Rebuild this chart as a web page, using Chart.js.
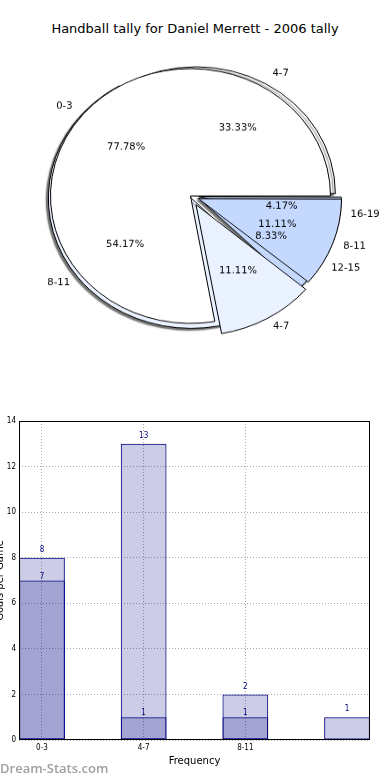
<!DOCTYPE html>
<html>
<head>
<meta charset="utf-8">
<script src="https://cdn.jsdelivr.net/npm/chart.js@4.4.1/dist/chart.umd.min.js"></script>
<style>
  body { margin: 0; width: 390px; height: 780px; overflow: hidden; background: #fff; position: relative; font-family: "DejaVu Sans", sans-serif; }
  #title { position: absolute; top: 21px; left: 0; width: 390px; text-align: center; font-size: 13px; color: #000; }
  #pieWrap { position: absolute; left: 0; top: 0; width: 390px; height: 392px; transform: scaleY(0.91); transform-origin: 50% 196px; }
  #pieWrap canvas { position: absolute; left: 0; top: 0; }
  #barBox { position: absolute; left: -6px; top: 400px; width: 396px; height: 380px; }
  #mark { position: absolute; left: 0; top: 762px; font-family: "Open Sans", sans-serif; font-weight: 600; font-size: 13px; line-height: 13px; color: #a0a0a0; }
</style>
</head>
<body>
<div id="title">Handball tally for Daniel Merrett - 2006 tally</div>
<div id="pieWrap">
  <canvas id="pieBack" width="390" height="392"></canvas>
  <canvas id="pieFront" width="390" height="392"></canvas>
</div>
<div id="barBox"><canvas id="bars"></canvas></div>
<div id="mark">Dream-Stats.com</div>
<script>
// pie data (matplotlib order: counter-clockwise from 3 o'clock)
var pieLabelsA = ['0-3', '4-7', '8-11'];
var pieTallyA = [7, 1, 1];
var pieLabelsB = ['4-7', '8-11', '12-15', '16-19'];
var pieTallyB = [8, 13, 2, 1];

// bar data
var barCategories = ['0-3', '4-7', '8-11', '12-15'];
var barTickLabels = ['0-3', '4-7', '8-11'];
var barTotal = [8, 13, 2, 1];
var bar2006 = [7, 1, 1, 0];
var yTicks = [0, 2, 4, 6, 8, 10, 12, 14];

var FONT = '"DejaVu Sans", sans-serif';
var SQUASH = 0.91;

// chart.js goes clockwise, so feed the slices backwards
function rev(a) { return a.slice().reverse(); }

function drawPieText(ctx, chart) {
  var meta = chart.getDatasetMeta(0);
  var data = chart.data.datasets[0].data;
  var total = data.reduce(function(a, b) { return a + b; }, 0);
  ctx.save();
  ctx.font = '10px ' + FONT;
  ctx.fillStyle = '#000';
  ctx.textBaseline = 'middle';
  meta.data.forEach(function(arc, i) {
    var mid = (arc.startAngle + arc.endAngle) / 2;
    var c = Math.cos(mid), s = Math.sin(mid);
    var t = (arc.options.offset || 0) / 4;
    var R = arc.outerRadius;
    var put = function(txt, dist, align) {
      ctx.save();
      ctx.translate(arc.x + c * (dist + t), arc.y + s * (dist + t));
      ctx.scale(1, 1 / SQUASH);
      ctx.textAlign = align;
      ctx.fillText(txt, 0, 0);
      ctx.restore();
    };
    put(chart.data.labels[i], 1.1 * R, c > 0 ? 'left' : 'right');
    put((data[i] / total * 100).toFixed(2) + '%', 0.6 * R, 'center');
  });
  ctx.restore();
}

// the front pie writes the labels of both pies so nothing hides them
var pieText = {
  id: 'pieText',
  afterDatasetsDraw: function(chart) {
    var back = Chart.getChart('pieBack');
    if (back) drawPieText(chart.ctx, back);
    drawPieText(chart.ctx, chart);
  }
};

var pieShadow = {
  id: 'pieShadow',
  beforeDatasetsDraw: function(chart) {
    var ctx = chart.ctx;
    ctx.save();
    ctx.shadowColor = 'rgba(0,0,0,0.55)';
    ctx.shadowOffsetX = -2;
    ctx.shadowOffsetY = 2;
    ctx.shadowBlur = 1.5;
  },
  afterDatasetsDraw: function(chart) { chart.ctx.restore(); }
};

function pieConfig(labels, values, colors, offsets, radius, padding, plugins) {
  return {
    type: 'pie',
    data: {
      labels: rev(labels),
      datasets: [{
        data: rev(values),
        backgroundColor: rev(colors),
        borderColor: '#000',
        borderWidth: 1,
        offset: rev(offsets),
        hoverOffset: 0
      }]
    },
    options: {
      responsive: false,
      animation: false,
      rotation: 90,
      radius: radius,
      layout: { padding: padding },
      plugins: { legend: { display: false }, tooltip: { enabled: false } },
      events: []
    },
    plugins: plugins
  };
}

new Chart(document.getElementById('pieBack'), pieConfig(
  pieLabelsB, pieTallyB,
  ['#ffffff', '#eaf1ff', '#c5d9ff', '#c5d9ff'],
  [12, 16, 20, 18],
  139, { left: 0, right: 1 }, [pieShadow]));

new Chart(document.getElementById('pieFront'), pieConfig(
  pieLabelsA, pieTallyA,
  ['#ffffff', '#eaf1ff', '#c5d9ff'],
  [0, 44, 34],
  140, { left: 0, right: 9 }, [pieText]));

// ---- bar chart ----
var barValues = {
  id: 'barValues',
  afterDatasetsDraw: function(chart) {
    var ctx = chart.ctx;
    ctx.save();
    ctx.font = '8px "DejaVu Sans Condensed", ' + FONT;
    ctx.fillStyle = '#000080';
    ctx.textAlign = 'center';
    ctx.textBaseline = 'middle';
    chart.data.datasets.forEach(function(ds, d) {
      var gap = d === 0 ? 8 : 4;
      chart.getDatasetMeta(d).data.forEach(function(bar, i) {
        if (!ds.data[i].y) return;
        ctx.fillText(ds.data[i].y, bar.x, bar.y - gap);
      });
    });
    ctx.restore();
  },
  afterDraw: function(chart) {
    var a = chart.chartArea, ctx = chart.ctx;
    ctx.save();
    ctx.strokeStyle = '#000';
    ctx.lineWidth = 1;
    ctx.strokeRect(Math.round(a.left) + 0.5, Math.round(a.top) + 0.5,
      Math.round(a.right - a.left) - 1, Math.round(a.bottom - a.top) - 1);
    ctx.restore();
  }
};

function pts(vals) {
  return vals.map(function(v, i) { return { x: i, y: v }; });
}

var barStyle = {
  grouped: false,
  backgroundColor: 'rgba(0,0,128,0.2)',
  borderColor: '#000080',
  borderWidth: 1,
  borderSkipped: false,
  barPercentage: 0.45,
  categoryPercentage: 1
};

function barSet(name, vals) {
  return Object.assign({ label: name, data: pts(vals) }, barStyle);
}

var tickFont = { family: '"DejaVu Sans Condensed", ' + FONT, size: 8 };

new Chart(document.getElementById('bars'), {
  type: 'bar',
  data: {
    datasets: [barSet('Total', barTotal), barSet('2006', bar2006)]
  },
  options: {
    maintainAspectRatio: false,
    animation: false,
    events: [],
    layout: { padding: { top: 21, right: 20, bottom: 0, left: 0 } },
    plugins: { legend: { display: false }, tooltip: { enabled: false }, colors: { enabled: false } },
    scales: {
      x: {
        type: 'linear',
        offset: false,
        min: -0.226,
        max: 3.226,
        z: 1,
        afterBuildTicks: function(s) {
          s.ticks = barTickLabels.map(function(n, i) { return { value: i }; });
        },
        afterFit: function(s) { s.height = 40; },
        ticks: {
          callback: function(v) { return barTickLabels[v]; },
          font: tickFont, color: '#000', padding: 3, maxRotation: 0, autoSkip: false
        },
        grid: { offset: false, color: 'rgba(100,100,100,0.55)', drawTicks: false },
        border: { display: false, dash: [1, 2] },
        title: { display: true, text: 'Frequency', color: '#000',
          font: { family: FONT, size: 10 }, padding: { top: 0, bottom: 13 } }
      },
      y: {
        min: 0,
        max: 14,
        z: 1,
        afterBuildTicks: function(s) {
          s.ticks = yTicks.map(function(v) { return { value: v }; });
        },
        afterFit: function(s) { s.width = 25; },
        ticks: { font: tickFont, color: '#000', padding: 3 },
        grid: { color: 'rgba(100,100,100,0.55)', drawTicks: false },
        border: { display: false, dash: [1, 2] },
        title: { display: true, text: 'Goals per Game', color: '#000',
          font: { family: FONT, size: 10 }, padding: 0 }
      }
    }
  },
  plugins: [barValues]
});
</script>
</body>
</html>
